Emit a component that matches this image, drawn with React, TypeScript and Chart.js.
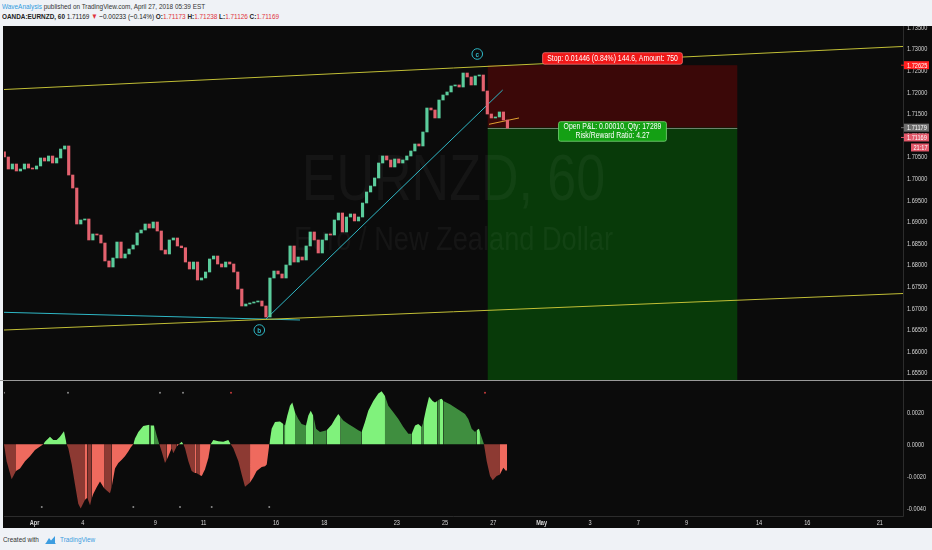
import React, { useEffect, useRef } from "react";
import { Chart, registerables } from "chart.js";

Chart.register(...registerables);

// ---------------- data ----------------
// hourly axis: hour 0 = Apr 2 00:00, weekends removed
const HOUR_MIN = -30.3;
const HOUR_MAX = 863.1;
const TIME_TICK_HOURS = [0, 48, 120, 168, 240, 288, 360, 408, 456, 504, 552, 600, 648, 720, 768, 840];
const TIME_TICK_LABELS = ["Apr", "4", "9", "11", "16", "18", "23", "25", "27", "May", "3", "7", "9", "14", "16", "21"];

const PRICE_MIN = 1.65338;
const PRICE_MAX = 1.73509;
const PRICE_STEP = 0.005;

// 4-hour candles (close prices), open = previous close
const CANDLE_START_HOUR = -30;
const CANDLE_STEP_HOURS = 4;
const FIRST_OPEN = 1.7062;
const CLOSES = [
  1.705, 1.70222, 1.70338, 1.70176, 1.70222, 1.70338, 1.70245, 1.70222, 1.70292, 1.70477,
  1.70407, 1.70523, 1.70361, 1.70477, 1.70685, 1.70755, 1.70083, 1.69782, 1.68949, 1.69042,
  1.69065, 1.68579, 1.68718, 1.68694, 1.68509, 1.68093, 1.67954, 1.68162, 1.68532, 1.68162,
  1.68255, 1.6837, 1.68463, 1.68741, 1.6881, 1.68949, 1.68856, 1.68995, 1.68787, 1.68347,
  1.68255, 1.68579, 1.68625, 1.6844, 1.684, 1.68069, 1.67907, 1.68069, 1.67653, 1.677,
  1.67838, 1.68139, 1.68208, 1.68023, 1.67954, 1.68069, 1.68023, 1.67838, 1.67444, 1.67051,
  1.67097, 1.6712, 1.67144, 1.67167, 1.67051, 1.66796, 1.67699, 1.67861, 1.67792, 1.67699,
  1.68, 1.6844, 1.68069, 1.68185, 1.68116, 1.6844, 1.68764, 1.68579, 1.68278, 1.68579,
  1.68718, 1.68694, 1.69042, 1.69204, 1.68764, 1.69111, 1.69181, 1.69019, 1.69111, 1.69435,
  1.6969, 1.69829, 1.70014, 1.70361, 1.70523, 1.70431, 1.70269, 1.70454, 1.70361, 1.70431,
  1.70523, 1.70639, 1.70801, 1.70755, 1.71079, 1.71634, 1.71588, 1.71403, 1.71819, 1.71935,
  1.72005, 1.72144, 1.72167, 1.7212, 1.72444, 1.72352, 1.72167, 1.72375, 1.72398, 1.72028,
  1.71495, 1.71403, 1.71426, 1.71542, 1.71356, 1.71169,
];
const LAST_PRICE = 1.71169;

// drawings
const UPPER_CHANNEL_HOURS = [-30.3, 863.1];
const UPPER_CHANNEL_PRICES = [1.72062, 1.73058];
const LOWER_CHANNEL_HOURS = [-30.3, 863.1];
const LOWER_CHANNEL_PRICES = [1.66495, 1.6734];
const BASE_LINE_HOURS = [-30.3, 263.9];
const BASE_LINE_PRICES = [1.66905, 1.66727];
const TREND_LINE_HOURS = [230.1, 465.3];
const TREND_LINE_PRICES = [1.6675, 1.72051];
const FLAG_LINE_HOURS = [451.7, 481.5];
const FLAG_LINE_PRICES = [1.71257, 1.71403];

const WAVE_LABELS = ["b", "c"];
const WAVE_LABEL_HOURS = [223.4, 440.0];
const WAVE_LABEL_PRICES = [1.66495, 1.72884];

// short position tool
const POSITION_HOURS = [450.4, 698.4];
const ENTRY_PRICE = 1.71179;
const STOP_PRICE = 1.72625;
const TARGET_PRICE = 1.65005;
const STOP_LABEL = "Stop: 0.01446 (0.84%) 144.6, Amount: 750";
const PNL_LABEL_LINES = ["Open P&L: 0.00010, Qty: 17289", "Risk/Reward Ratio: 4.27"];
const COUNTDOWN = "21:17";

const WATERMARK_TITLE = "EURNZD, 60";
const WATERMARK_SUBTITLE = "Euro / New Zealand Dollar";

// oscillator: [hour, value, shade] (shade of the segment to the right: L light, D dark)
const OSC_MIN = -0.0044832;
const OSC_MAX = 0.0037125;
const OSC_STEP = 0.002;
const OSC_POINTS: [number, number, string][] = [
  [-30.3, 0, "D"], [-27.7, -0.00106, "D"], [-22.7, -0.00218, "D"], [-18.4, -0.00167, "L"], [-14.4, -0.00151, "L"],
  [-9.4, -0.00106, "L"], [-4.5, -0.00075, "L"], [0.5, -0.00035, "L"], [5.5, -0.00014, "L"], [8.8, 0, "L"],
  [10.4, 0.00016, "L"], [15.4, 0.00047, "L"], [18.7, 0.00027, "L"], [22.0, 0.00027, "L"], [25.3, 0.00047, "L"],
  [29.3, 0.00082, "L"], [32.0, 0, "D"],
  [33.6, -0.00024, "D"], [37.0, -0.00126, "D"], [40.2, -0.00249, "D"], [43.5, -0.00371, "D"], [45.9, -0.00402, "D"],
  [50.2, -0.00347, "L"], [52.5, -0.00334, "D"], [55.2, -0.00381, "D"], [56.8, -0.0034, "L"], [58.4, -0.0031, "L"],
  [61.8, -0.00269, "L"], [65.1, -0.00232, "L"], [69.1, -0.00273, "D"], [71.7, -0.00289, "D"], [75.0, -0.00306, "D"],
  [76.7, -0.00269, "L"], [80.0, -0.00151, "L"], [83.3, -0.00116, "L"], [86.7, -0.00096, "L"], [89.9, -0.00075, "L"],
  [93.2, -0.00045, "L"], [95.6, -0.0002, "L"], [98.2, 0, "L"],
  [99.9, 0.00037, "L"], [103.2, 0.00077, "L"], [108.1, 0.00114, "L"], [114.1, 0.00122, "D"], [115.5, 0.00118, "L"],
  [118.8, 0.00118, "D"], [121.4, 0.00057, "D"], [124.0, 0, "D"],
  [126.4, -0.00045, "D"], [129.7, -0.00116, "D"], [131.4, -0.00096, "L"], [133.0, -0.00075, "L"], [136.3, -0.00024, "D"],
  [138.0, -0.00055, "D"], [141.3, -0.00014, "L"], [143.6, 0, "L"], [146.3, 0.00016, "L"], [147.9, 0, "D"],
  [149.6, -0.00024, "D"], [152.9, -0.00106, "D"], [156.2, -0.00167, "D"], [158.8, -0.00177, "L"], [161.2, -0.00181, "D"],
  [164.5, -0.00194, "L"], [166.2, -0.00198, "L"], [169.4, -0.00157, "L"], [172.8, -0.00086, "L"], [175.1, 0, "L"],
  [177.7, 0.00027, "L"], [182.7, 0.0002, "L"], [187.6, 0.00016, "L"], [192.6, 0.00027, "L"], [195.0, 0, "D"],
  [197.6, -0.00024, "D"], [202.6, -0.00106, "D"], [205.9, -0.00188, "D"], [209.2, -0.00265, "D"], [214.2, -0.00238, "L"],
  [217.4, -0.00208, "L"], [220.8, -0.00167, "L"], [225.8, -0.00141, "L"], [229.1, -0.00137, "L"], [230.8, -0.00126, "L"],
  [233.4, 0, "L"],
  [235.7, 0.00098, "L"], [239.0, 0.00139, "L"], [244.0, 0.00143, "L"], [247.3, 0.00128, "D"], [249.0, 0.00118, "L"],
  [251.2, 0.00179, "L"], [253.9, 0.00241, "L"], [256.2, 0.00261, "L"], [258.9, 0.002, "D"], [262.2, 0.00159, "D"],
  [265.5, 0.00128, "D"], [269.8, 0.00118, "L"], [272.1, 0.00179, "L"], [274.5, 0.0021, "L"], [277.1, 0.00179, "D"],
  [279.8, 0.00098, "D"], [283.7, 0.00077, "D"], [290.4, 0.00088, "L"], [295.3, 0.00122, "L"], [298.6, 0.00159, "L"],
  [301.9, 0.0019, "L"], [304.3, 0.00169, "D"], [306.9, 0.00149, "D"], [311.9, 0.00128, "D"], [316.8, 0.00108, "D"],
  [321.8, 0.00088, "D"], [325.1, 0.00077, "L"], [328.4, 0.00139, "L"], [331.7, 0.0021, "L"], [336.7, 0.00271, "L"],
  [341.7, 0.00318, "L"], [345.0, 0.00332, "L"], [348.3, 0.00302, "D"], [351.6, 0.00241, "D"], [356.6, 0.002, "D"],
  [361.6, 0.00159, "D"], [366.5, 0.00108, "D"], [371.5, 0.00067, "D"], [374.9, 0.00067, "L"], [378.2, 0.00118, "L"],
  [381.4, 0.00128, "L"], [384.8, 0.00108, "D"], [386.4, 0.00139, "L"], [389.1, 0.0022, "L"], [392.1, 0.00298, "L"],
  [395.7, 0.00271, "L"], [398.0, 0.00261, "L"], [400.3, 0.00271, "D"], [402.3, 0.00281, "L"], [404.7, 0.00285, "L"],
  [406.3, 0.00271, "D"], [412.9, 0.00251, "D"], [417.9, 0.0023, "D"], [422.9, 0.0021, "D"], [427.8, 0.0019, "D"],
  [431.1, 0.00159, "D"], [434.5, 0.00098, "D"], [437.8, 0.00077, "D"], [439.4, 0.00088, "L"], [441.7, 0.00098, "L"],
  [442.7, 0.00077, "D"], [446.7, 0, "D"],
  [449.4, -0.00106, "D"], [452.7, -0.00198, "D"], [455.4, -0.00224, "D"], [459.3, -0.00198, "D"], [462.6, -0.00188, "L"],
  [465.9, -0.00147, "L"], [468.6, -0.00167, "L"], [469.6, -0.0016, "L"],
];
const OSC_TOP_DOT_HOURS = [-30.3, 33.3, 124.7, 147.6, 195.3, 447.7];
const OSC_TOP_DOT_KINDS = ["n", "n", "n", "n", "r", "r"];
const OSC_TOP_DOT_VALUE = 0.00322;
const OSC_BOTTOM_DOT_HOURS = [7.2, 98.2, 144.6, 176.1, 233.3];
const OSC_BOTTOM_DOT_VALUE = -0.00392;

// ---------------- styles ----------------
const SQUASH = 0.8;
const FONT = '"Liberation Sans", Arial, sans-serif';
const TICK_COLOR = "#d6d6d6";
const UP = "#5bcc9c";
const DOWN = "#e3626f";
const CHANNEL = "#c2bf36";
const CYAN = "#2fb8c6";
const ORANGE = "#e0a030";
const RED_TXT = "#e0323c";

function squashText(ctx: CanvasRenderingContext2D, text: string, x: number, y: number, align: CanvasTextAlign) {
  ctx.save();
  ctx.translate(x, y);
  ctx.scale(SQUASH, 1);
  ctx.textAlign = align;
  ctx.fillText(text, 0, 0);
  ctx.restore();
}

function roundRect(ctx: CanvasRenderingContext2D, x: number, y: number, w: number, h: number, r: number) {
  ctx.beginPath();
  ctx.moveTo(x + r, y);
  ctx.lineTo(x + w - r, y);
  ctx.quadraticCurveTo(x + w, y, x + w, y + r);
  ctx.lineTo(x + w, y + h - r);
  ctx.quadraticCurveTo(x + w, y + h, x + w - r, y + h);
  ctx.lineTo(x + r, y + h);
  ctx.quadraticCurveTo(x, y + h, x, y + h - r);
  ctx.lineTo(x, y + r);
  ctx.quadraticCurveTo(x, y, x + r, y);
  ctx.closePath();
}

const fmtPrice = (v: number) => v.toFixed(5);
const fmtOsc = (v: number) => (Math.abs(v) < 1e-9 ? "0.0000" : v.toFixed(4));

// draws the tick labels of the library's own axes (narrow, like the reference)
function drawYTicks(chart: any, fmt: (v: number) => string) {
  const { ctx, chartArea: a, scales } = chart;
  const y = scales.y;
  ctx.save();
  ctx.fillStyle = TICK_COLOR;
  ctx.font = `7px ${FONT}`;
  ctx.textBaseline = "middle";
  y.ticks.forEach((t: any) => {
    squashText(ctx, fmt(t.value), a.right + 4, y.getPixelForValue(t.value) + 0.5, "left");
  });
  ctx.restore();
}

function keepFlush(s: any) {
  s.paddingTop = 0;
  s.paddingBottom = 0;
  s.paddingLeft = 0;
  s.paddingRight = 0;
}

const pricePlugin = {
  id: "priceOverlay",
  beforeDatasetsDraw(chart: any) {
    const { ctx, chartArea: a, scales } = chart;
    const x = scales.x, y = scales.y;
    ctx.save();
    ctx.beginPath();
    ctx.rect(a.left, a.top, a.right - a.left, a.bottom - a.top);
    ctx.clip();
    const x0 = x.getPixelForValue(POSITION_HOURS[0]);
    const x1 = x.getPixelForValue(POSITION_HOURS[1]);
    const yS = y.getPixelForValue(STOP_PRICE);
    const yE = y.getPixelForValue(ENTRY_PRICE);
    const yT = y.getPixelForValue(TARGET_PRICE);
    ctx.fillStyle = "#3b0808";
    ctx.fillRect(x0, yS, x1 - x0, yE - yS);
    ctx.fillStyle = "#083a09";
    ctx.fillRect(x0, yE, x1 - x0, yT - yE);
    ctx.strokeStyle = "rgba(190,190,190,0.55)";
    ctx.lineWidth = 1;
    ctx.beginPath();
    ctx.moveTo(x0, Math.round(yE) + 0.5);
    ctx.lineTo(x1, Math.round(yE) + 0.5);
    ctx.stroke();
    // watermark
    const cx = (a.left + a.right) / 2;
    const cy = (a.top + a.bottom) / 2;
    ctx.fillStyle = "rgba(255,255,255,0.045)";
    ctx.textBaseline = "alphabetic";
    ctx.font = `65px ${FONT}`;
    squashText(ctx, WATERMARK_TITLE, cx, cy - 3.5, "center");
    ctx.font = `34px ${FONT}`;
    squashText(ctx, WATERMARK_SUBTITLE, cx, cy + 46.5, "center");
    ctx.restore();
  },
  afterDatasetsDraw(chart: any) {
    const { ctx, scales } = chart;
    const x = scales.x, y = scales.y;
    ctx.save();
    // wave labels
    WAVE_LABELS.forEach((lab, i) => {
      const px = x.getPixelForValue(WAVE_LABEL_HOURS[i]);
      const py = y.getPixelForValue(WAVE_LABEL_PRICES[i]);
      ctx.beginPath();
      ctx.arc(px, py, 5.3, 0, Math.PI * 2);
      ctx.fillStyle = "#0b0b0b";
      ctx.fill();
      ctx.strokeStyle = CYAN;
      ctx.lineWidth = 1;
      ctx.stroke();
      ctx.fillStyle = CYAN;
      ctx.font = `bold 8px ${FONT}`;
      ctx.textBaseline = "middle";
      squashText(ctx, lab, px, py + 0.5, "center");
    });
    // position labels
    const x0 = x.getPixelForValue(POSITION_HOURS[0]);
    const x1 = x.getPixelForValue(POSITION_HOURS[1]);
    const mid = (x0 + x1) / 2;
    const yS = y.getPixelForValue(STOP_PRICE);
    const yE = y.getPixelForValue(ENTRY_PRICE);
    ctx.font = `8.6px ${FONT}`;
    ctx.textBaseline = "middle";
    const sw = ctx.measureText(STOP_LABEL).width * SQUASH + 9;
    roundRect(ctx, mid - sw / 2, yS - 12.5, sw, 11.5, 2);
    ctx.fillStyle = "#f01818";
    ctx.fill();
    ctx.strokeStyle = "#ff7070";
    ctx.lineWidth = 0.8;
    ctx.stroke();
    ctx.fillStyle = "#ffffff";
    squashText(ctx, STOP_LABEL, mid, yS - 6.6, "center");
    const pw = Math.max(...PNL_LABEL_LINES.map((t) => ctx.measureText(t).width)) * SQUASH + 10;
    roundRect(ctx, mid - pw / 2, yE - 6, pw, 19.6, 2);
    ctx.fillStyle = "#14a014";
    ctx.fill();
    ctx.strokeStyle = "#7ad87a";
    ctx.stroke();
    ctx.fillStyle = "#ffffff";
    squashText(ctx, PNL_LABEL_LINES[0], mid, yE - 0.6, "center");
    squashText(ctx, PNL_LABEL_LINES[1], mid, yE + 7.8, "center");
    ctx.restore();
  },
  afterDraw(chart: any) {
    const { ctx, chartArea: a, scales, width } = chart;
    const y = scales.y;
    drawYTicks(chart, fmtPrice);
    ctx.save();
    // pane / axis border
    ctx.strokeStyle = "#2c2c2c";
    ctx.lineWidth = 1;
    ctx.beginPath();
    ctx.moveTo(a.right + 0.5, 0);
    ctx.lineTo(a.right + 0.5, a.bottom);
    ctx.stroke();
    // separator between panes
    ctx.strokeStyle = "#9a9a9a";
    ctx.beginPath();
    ctx.moveTo(0, a.bottom + 0.5);
    ctx.lineTo(width, a.bottom + 0.5);
    ctx.stroke();
    // price labels on the axis
    const yE = y.getPixelForValue(ENTRY_PRICE);
    const yLast = Math.max(y.getPixelForValue(LAST_PRICE), yE + 9.8);
    const labels: [number, string, string][] = [
      [y.getPixelForValue(STOP_PRICE), fmtPrice(STOP_PRICE), "#ff1f1f"],
      [yE, fmtPrice(ENTRY_PRICE), "#6e6e6e"],
      [yLast, fmtPrice(LAST_PRICE), "#e3586a"],
    ];
    ctx.font = `7px ${FONT}`;
    ctx.textBaseline = "middle";
    labels.forEach(([py, text, bg]) => {
      ctx.fillStyle = bg;
      ctx.fillRect(a.right + 1, py - 4, 25, 8);
      ctx.fillRect(a.right - 2, py - 0.5, 3, 1);
      ctx.fillStyle = "#ffffff";
      squashText(ctx, text, a.right + 4, py + 0.5, "left");
    });
    ctx.fillStyle = "#e3586a";
    ctx.fillRect(a.right + 8, yLast + 6, 18, 8);
    ctx.fillStyle = "#ffffff";
    squashText(ctx, COUNTDOWN, a.right + 24.5, yLast + 10.5, "right");
    ctx.restore();
  },
};

const oscPlugin = {
  id: "oscOverlay",
  afterDraw(chart: any) {
    const { ctx, chartArea: a, scales } = chart;
    drawYTicks(chart, fmtOsc);
    const x = scales.x;
    ctx.save();
    ctx.fillStyle = TICK_COLOR;
    ctx.textBaseline = "middle";
    x.ticks.forEach((t: any, i: number) => {
      const lab = TIME_TICK_LABELS[i] ?? "";
      const bold = lab === "Apr" || lab === "May";
      ctx.font = `${bold ? "bold " : ""}7px ${FONT}`;
      squashText(ctx, lab, x.getPixelForValue(t.value), a.bottom + 6.8, "center");
    });
    ctx.strokeStyle = "#2c2c2c";
    ctx.lineWidth = 1;
    ctx.beginPath();
    ctx.moveTo(a.right + 0.5, 0);
    ctx.lineTo(a.right + 0.5, a.bottom + 0.5);
    ctx.lineTo(a.left, a.bottom + 0.5);
    ctx.stroke();
    ctx.restore();
  },
};

function pts(hours: number[], prices: number[]) {
  return hours.map((h, i) => ({ x: h, y: prices[i] }));
}

function lineDs(hours: number[], prices: number[], color: string) {
  return {
    type: "line" as const,
    data: pts(hours, prices),
    borderColor: color,
    borderWidth: 1,
    pointRadius: 0,
    fill: false,
    tension: 0,
    order: 1,
  };
}

export default function App() {
  const priceRef = useRef<HTMLCanvasElement>(null);
  const oscRef = useRef<HTMLCanvasElement>(null);

  useEffect(() => {
    const candles = CLOSES.map((c, i) => ({
      h: CANDLE_START_HOUR + i * CANDLE_STEP_HOURS,
      o: i === 0 ? FIRST_OPEN : CLOSES[i - 1],
      c,
    }));

    const priceChart = new Chart(priceRef.current as HTMLCanvasElement, {
      type: "bar",
      data: {
        datasets: [
          {
            type: "bar",
            data: candles.map((k) => ({ x: k.h, y: [k.o, k.c] })) as any,
            backgroundColor: candles.map((k) => (k.c >= k.o ? UP : DOWN)),
            barThickness: 2.5,
            minBarLength: 1,
            grouped: false,
            order: 0,
          } as any,
          lineDs(UPPER_CHANNEL_HOURS, UPPER_CHANNEL_PRICES, CHANNEL),
          lineDs(LOWER_CHANNEL_HOURS, LOWER_CHANNEL_PRICES, CHANNEL),
          lineDs(BASE_LINE_HOURS, BASE_LINE_PRICES, CYAN),
          lineDs(TREND_LINE_HOURS, TREND_LINE_PRICES, CYAN),
          lineDs(FLAG_LINE_HOURS, FLAG_LINE_PRICES, ORANGE),
        ],
      },
      options: {
        responsive: false,
        animation: false,
        events: [],
        layout: { padding: { left: 4, right: 0, top: 1, bottom: 1 } },
        plugins: { legend: { display: false }, tooltip: { enabled: false } },
        scales: {
          x: { type: "linear", min: HOUR_MIN, max: HOUR_MAX, display: false, offset: false },
          y: {
            type: "linear",
            position: "right",
            min: PRICE_MIN,
            max: PRICE_MAX,
            grid: { display: false, drawTicks: false },
            border: { display: false },
            ticks: { stepSize: PRICE_STEP, includeBounds: false, autoSkip: false, display: false },
            afterFit: (s: any) => {
              s.width = 29;
              keepFlush(s);
            },
          } as any,
        },
      },
      plugins: [pricePlugin],
    });

    const oscData = OSC_POINTS.map(([h, v]) => ({ x: h, y: v }));
    const oscChart = new Chart(oscRef.current as HTMLCanvasElement, {
      type: "line",
      data: {
        datasets: [
          {
            data: oscData,
            fill: "origin",
            borderColor: "rgba(0,0,0,0)",
            borderWidth: 0,
            pointRadius: 0,
            tension: 0,
            backgroundColor: "#7ef07a",
            segment: {
              backgroundColor: (c: any) => {
                const shade = OSC_POINTS[c.p0DataIndex][2];
                const pos = c.p0.parsed.y + c.p1.parsed.y >= 0;
                if (pos) return shade === "L" ? "#80f27c" : "#3f8e3f";
                return shade === "L" ? "#ef6a5e" : "#8d3a33";
              },
            },
            order: 1,
          } as any,
          {
            data: OSC_TOP_DOT_HOURS.map((h) => ({ x: h, y: OSC_TOP_DOT_VALUE })),
            showLine: false,
            pointRadius: 1,
            pointBorderWidth: 0,
            pointBackgroundColor: OSC_TOP_DOT_KINDS.map((k) => (k === "r" ? "#c43a3a" : "#8a8a8a")),
            order: 0,
          } as any,
          {
            data: OSC_BOTTOM_DOT_HOURS.map((h) => ({ x: h, y: OSC_BOTTOM_DOT_VALUE })),
            showLine: false,
            pointRadius: 1,
            pointBorderWidth: 0,
            pointBackgroundColor: "#8a8a8a",
            order: 0,
          } as any,
        ],
      },
      options: {
        responsive: false,
        animation: false,
        events: [],
        layout: { padding: { left: 4, right: 0, top: 1, bottom: 0 } },
        plugins: { legend: { display: false }, tooltip: { enabled: false } },
        scales: {
          x: {
            type: "linear",
            min: HOUR_MIN,
            max: HOUR_MAX,
            offset: false,
            grid: { display: false, drawTicks: false },
            border: { display: false },
            afterBuildTicks: (s: any) => {
              s.ticks = TIME_TICK_HOURS.map((v) => ({ value: v }));
            },
            ticks: { autoSkip: false, maxRotation: 0, display: false },
            afterFit: (s: any) => {
              s.height = 12;
              keepFlush(s);
            },
          } as any,
          y: {
            type: "linear",
            position: "right",
            min: OSC_MIN,
            max: OSC_MAX,
            grid: { display: false, drawTicks: false },
            border: { display: false },
            ticks: { stepSize: OSC_STEP, includeBounds: false, autoSkip: false, display: false },
            afterFit: (s: any) => {
              s.width = 29;
              keepFlush(s);
            },
          } as any,
        },
      },
      plugins: [oscPlugin],
    });

    return () => {
      priceChart.destroy();
      oscChart.destroy();
    };
  }, []);

  const textLine: React.CSSProperties = {
    position: "absolute",
    left: 2,
    whiteSpace: "nowrap",
    fontFamily: FONT,
    fontSize: 8,
    lineHeight: "10px",
    transform: `scaleX(${SQUASH})`,
    transformOrigin: "left center",
    color: "#333333",
  };
  const red: React.CSSProperties = { color: RED_TXT };

  return (
    <div
      style={{
        position: "fixed",
        left: 0,
        top: 0,
        width: 932,
        height: 550,
        background: "#eff2f6",
        overflow: "hidden",
      }}
    >
      <div style={{ ...textLine, top: 2 }}>
        <span style={{ color: "#2f9be0" }}>WaveAnalysis</span> published on TradingView.com, April 27, 2018 05:39 EST
      </div>
      <div style={{ ...textLine, top: 12, color: "#222" }}>
        <b>OANDA:EURNZD, 60</b> 1.71169 <span style={red}>▼</span> −0.00233 (−0.14%) <b>O:</b>
        <span style={red}>1.71173</span> <b>H:</b>
        <span style={red}>1.71238</span> <b>L:</b>
        <span style={red}>1.71126</span> <b>C:</b>
        <span style={red}>1.71169</span>
      </div>
      <div
        style={{
          position: "absolute",
          left: 3,
          top: 26,
          width: 929,
          height: 502,
          background: "#0b0b0b",
        }}
      />
      <canvas
        ref={priceRef}
        width={932}
        height={355}
        style={{ position: "absolute", left: 0, top: 26, width: 932, height: 355 }}
      />
      <canvas
        ref={oscRef}
        width={932}
        height={147}
        style={{ position: "absolute", left: 0, top: 381, width: 932, height: 147 }}
      />
      <div style={{ ...textLine, top: 535, left: 3, color: "#333" }}>Created with</div>
      <svg
        width={11}
        height={9}
        viewBox="0 0 22 18"
        style={{ position: "absolute", left: 45, top: 535 }}
      >
        <path d="M2 16 L8 6 L12 11 L20 2 L20 16 Z" fill="#3d9de0" />
        <path d="M1 17 L21 17" stroke="#3d9de0" strokeWidth={2} />
      </svg>
      <div style={{ ...textLine, top: 535, left: 60, color: "#3d9de0" }}>TradingView</div>
    </div>
  );
}
